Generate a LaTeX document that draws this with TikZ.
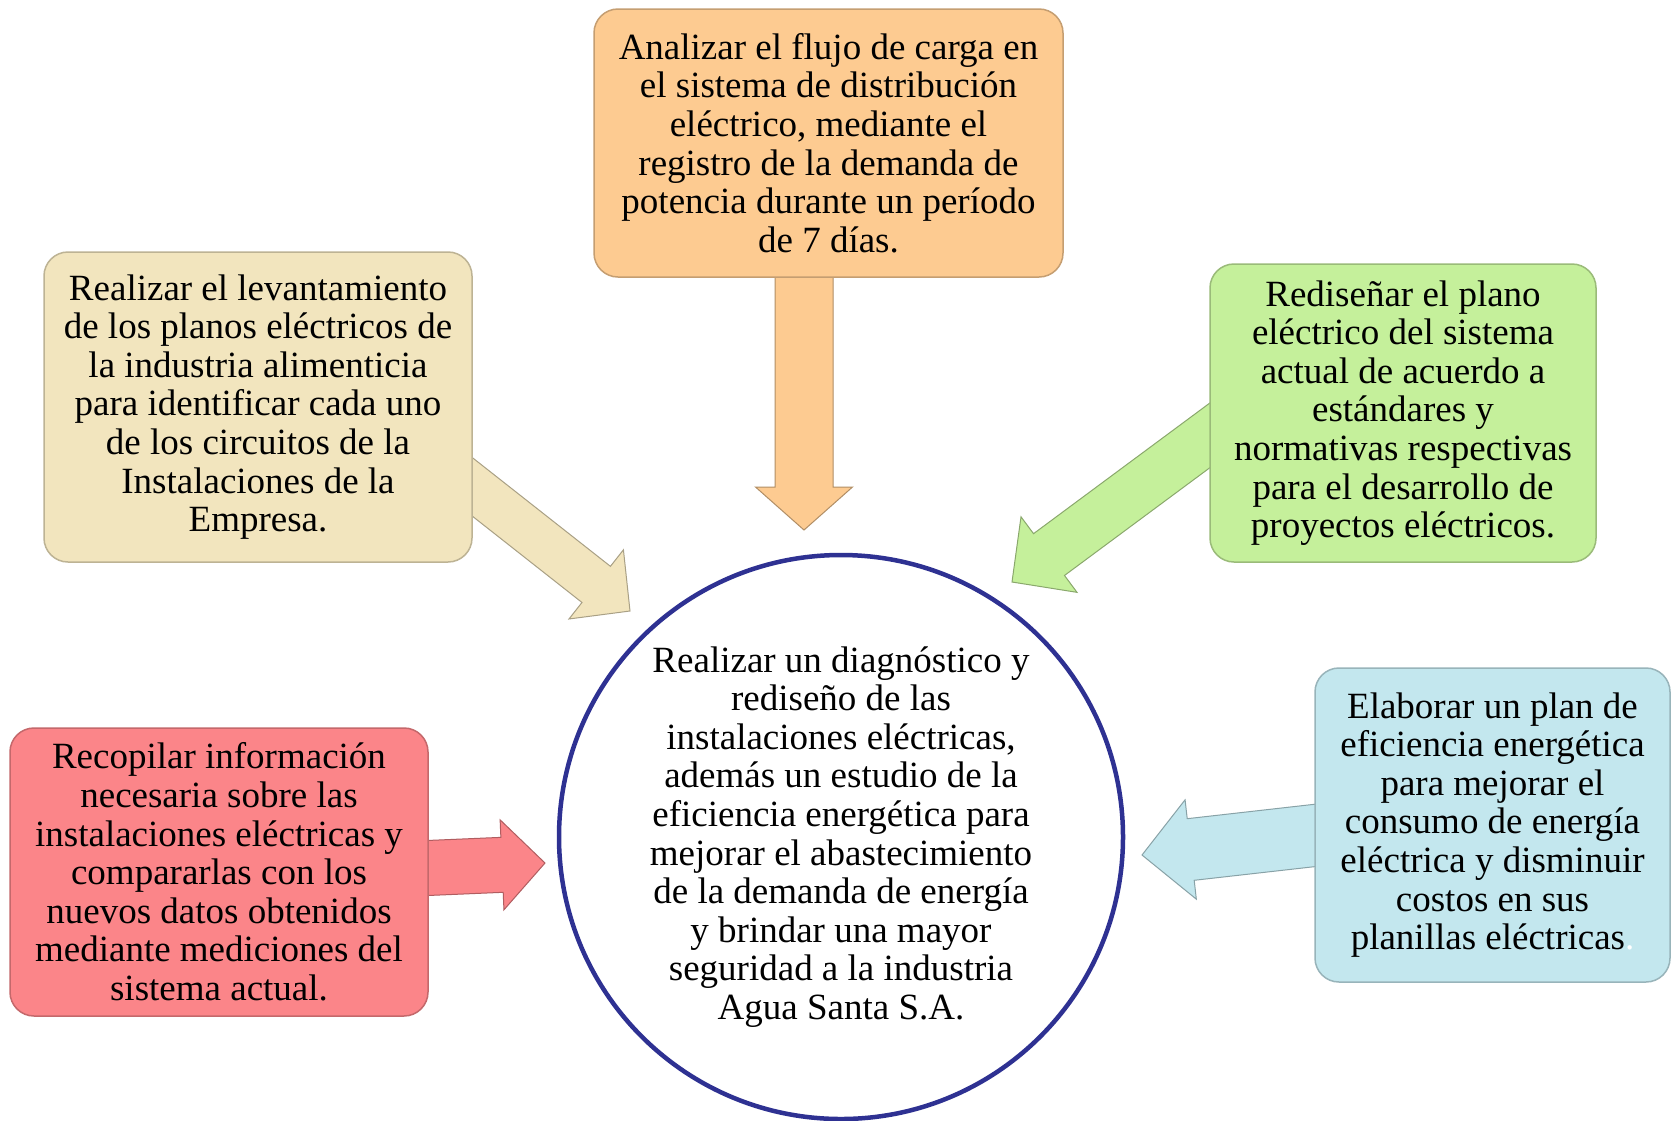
\documentclass[tikz,border=0pt]{standalone}
\usepackage{fontspec}
\setmainfont{Liberation Serif}
\usetikzlibrary{calc}
\definecolor{orfill}{HTML}{FDCB91}
\definecolor{befill}{HTML}{F2E5BE}
\definecolor{grfill}{HTML}{C5F09B}
\definecolor{rdfill}{HTML}{FB8589}
\definecolor{blfill}{HTML}{C3E7EE}
\definecolor{circblue}{HTML}{2E3192}
% block arrow: #1 style, #2 tail coordinate, #3 tip coordinate,
% #4 shaft half width, #5 head half width, #6 head length (all in pt)
\newcommand\blockarr[6]{%
  \path[#1] let \p1=(#2), \p2=(#3),
      \n1={atan2(\y2-\y1,\x2-\x1)},
      \n2={veclen(\x2-\x1,\y2-\y1)-#6pt} in
    ($(\p1)+(\n1-90:#4pt)$) -- ($(\p1)+(\n1:\n2)+(\n1-90:#4pt)$)
    -- ($(\p1)+(\n1:\n2)+(\n1-90:#5pt)$) -- (\p2)
    -- ($(\p1)+(\n1:\n2)+(\n1+90:#5pt)$) -- ($(\p1)+(\n1:\n2)+(\n1+90:#4pt)$)
    -- ($(\p1)+(\n1+90:#4pt)$) -- cycle;}
\begin{document}
\begin{tikzpicture}[x=1pt,y=-1pt,
  txt/.style={font=\fontsize{37}{38.6}\selectfont, align=center},
  goalbox/.style={txt, rounded corners=24pt, inner sep=0pt, line width=1.5pt,
    fill=#1, draw=#1!78!black},
  arr/.style={fill=#1, draw=#1!70!black, line width=1pt}]
\useasboundingbox (0,0) rectangle (1672,1120);
\fill[white] (0,0) rectangle (1672,1120);

% arrow end points
\coordinate (oS) at (804,250);  \coordinate (oT) at (804,530);
\coordinate (bS) at (442,463);  \coordinate (bT) at (630,611);
\coordinate (gS) at (1240,413); \coordinate (gT) at (1012,582);
\coordinate (rS) at (380,870);  \coordinate (rT) at (545,863);
\coordinate (lS) at (1345,832); \coordinate (lT) at (1142,855);

\blockarr{arr=orfill}{oS}{oT}{29}{48.5}{43}
\blockarr{arr=befill}{bS}{bT}{23}{44}{43}
\blockarr{arr=grfill}{gS}{gT}{26}{47}{46}
\blockarr{arr=rdfill}{rS}{rT}{27.5}{45}{43}
\blockarr{arr=blfill}{lS}{lT}{31}{50}{49}

\node[goalbox=orfill, minimum width=469pt, minimum height=268pt] (top) at (828.5,143)
  {Analizar el flujo de carga en\\el sistema de distribución\\eléctrico, mediante el\\registro de la demanda de\\potencia durante un período\\de 7 días.};
\node[goalbox=befill, minimum width=428pt, minimum height=310pt] (lefttop) at (258,407)
  {Realizar el levantamiento\\de los planos eléctricos de\\la industria alimenticia\\para identificar cada uno\\de los circuitos de la\\Instalaciones de la\\Empresa.};
\node[goalbox=grfill, minimum width=386pt, minimum height=298pt] (righttop) at (1403,413)
  {Rediseñar el plano\\eléctrico del sistema\\actual de acuerdo a\\estándares y\\normativas respectivas\\para el desarrollo de\\proyectos eléctricos.};
\node[goalbox=rdfill, minimum width=418pt, minimum height=288pt] (leftbot) at (219,872)
  {Recopilar información\\necesaria sobre las\\instalaciones eléctricas y\\compararlas con los\\nuevos datos obtenidos\\mediante mediciones del\\sistema actual.};
\node[goalbox=blfill, minimum width=355pt, minimum height=314pt] (rightbot) at (1492.5,825)
  {Elaborar un plan de\\eficiencia energética\\para mejorar el\\consumo de energía\\eléctrica y disminuir\\costos en sus\\planillas eléctricas{\color{white}.}};

\node[txt, circle, draw=circblue, fill=white, line width=4.5pt, inner sep=0pt,
  minimum size=564pt] (goal) at (841,837)
  {Realizar un diagnóstico y\\rediseño de las\\instalaciones eléctricas,\\además un estudio de la\\eficiencia energética para\\mejorar el abastecimiento\\de la demanda de energía\\y brindar una mayor\\seguridad a la industria\\Agua Santa S.A.};
\end{tikzpicture}
\end{document}
